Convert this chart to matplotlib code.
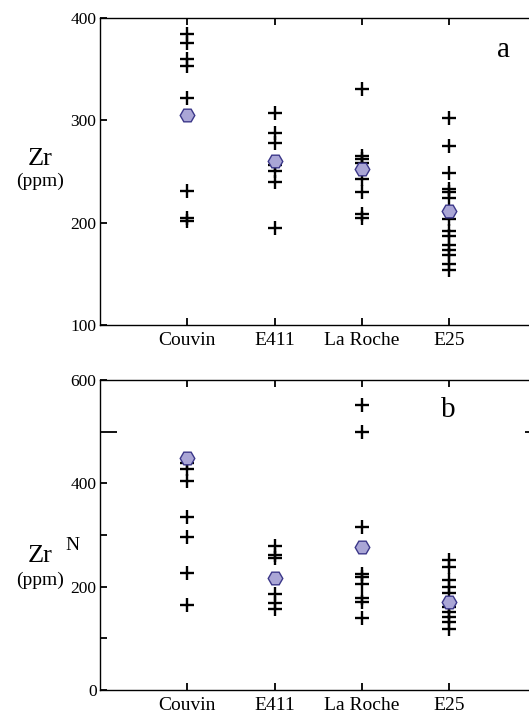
import matplotlib
matplotlib.use("Agg")
import matplotlib.pyplot as plt

categories = ["Couvin", "E411", "La Roche", "E25"]

# Panel a: Zr (ppm)
zr_couvin = [384, 376, 360, 353, 322, 231, 205, 202]
zr_e411 = [307, 288, 278, 256, 250, 240, 195]
zr_laroche = [331, 265, 262, 258, 243, 230, 208, 205]
zr_e25 = [302, 275, 249, 233, 230, 224, 204, 192, 187, 178, 173, 168, 160, 154]
zr_mean = [305, 260, 252, 211]

# Panel b: Zr^N (ppm)
zrn_couvin = [440, 427, 405, 334, 296, 227, 165]
zrn_e411 = [279, 262, 256, 186, 168, 156]
zrn_laroche = [552, 500, 316, 224, 219, 206, 179, 171, 139]
zrn_e25 = [252, 239, 213, 200, 188, 161, 151, 142, 132, 118]
zrn_mean = [450, 216, 277, 171]

SERIF = ["Liberation Serif", "DejaVu Serif"]
plt.rcParams["font.family"] = SERIF

W, H = 529, 720
fig = plt.figure(figsize=(W / 100, H / 100), dpi=100)


def rect(l, t, r, b):
    return [l / W, 1 - b / H, (r - l) / W, (b - t) / H]


ax1 = fig.add_axes(rect(100, 18, 542, 325))
ax2 = fig.add_axes(rect(100, 380, 542, 690))

hex_face = "#aaa6d6"
hex_edge = "#3b3789"


def draw(ax, groups, means):
    for i, vals in enumerate(groups):
        ax.plot([i + 1] * len(vals), vals, linestyle="none", marker="+",
                markersize=10, markeredgewidth=1.7, color="black", zorder=2)
    ax.plot(range(1, len(means) + 1), means, linestyle="none", marker="H",
            markersize=10.5, markerfacecolor=hex_face, markeredgecolor=hex_edge,
            markeredgewidth=1.0, zorder=3)
    ax.set_xlim(0, 5.06)
    ax.set_xticks(range(1, len(categories) + 1))
    ax.set_xticklabels(categories, fontsize=14)
    ax.tick_params(axis="x", direction="in", top=True, bottom=True,
                   length=5.2, width=1.3, pad=5)
    ax.tick_params(axis="y", direction="in", left=True, right=True,
                   length=5.2, width=1.3, pad=2.5, labelsize=12.5)
    for s in ax.spines.values():
        s.set_linewidth(1.0)
        s.set_color("black")


draw(ax1, [zr_couvin, zr_e411, zr_laroche, zr_e25], zr_mean)
ax1.set_ylim(100, 400)
ax1.set_yticks([100, 200, 300, 400])
ax1.set_yticklabels(["100", "200", "300", "400"])

draw(ax2, [zrn_couvin, zrn_e411, zrn_laroche, zrn_e25], zrn_mean)
ax2.set_ylim(0, 600)
ax2.set_yticks([0, 100, 200, 300, 400, 500, 600])
ax2.set_yticklabels(["0", "", "200", "", "400", "", "600"])
t500 = ax2.yaxis.get_major_ticks()[5]
t500.tick1line.set_markersize(12.5)
t500.tick2line.set_markersize(12.5)

fig.text(503 / W, 1 - 50 / H, "a", fontsize=21, ha="center", va="center")
fig.text(448 / W, 1 - 410 / H, "b", fontsize=21, ha="center", va="center")

fig.text(40 / W, 1 - 159 / H, "Zr", fontsize=19, ha="center", va="center")
fig.text(40 / W, 1 - 181 / H, "(ppm)", fontsize=14, ha="center", va="center")
fig.text(40 / W, 1 - 556 / H, "Zr", fontsize=19, ha="center", va="center")
fig.text(72 / W, 1 - 545 / H, "N", fontsize=14, ha="center", va="center")
fig.text(40 / W, 1 - 580 / H, "(ppm)", fontsize=14, ha="center", va="center")

fig.savefig("out.png", dpi=100)
